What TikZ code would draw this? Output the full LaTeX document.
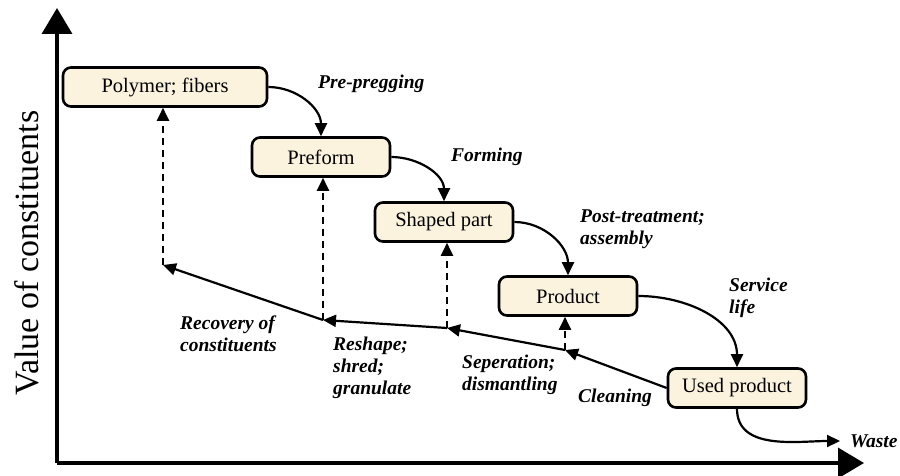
\documentclass[tikz,border=0pt]{standalone}
\usepackage{fontspec}
\setmainfont{Liberation Serif}
\usetikzlibrary{
    arrows.meta,
    positioning
}

\definecolor{cream}{HTML}{FBF3DE}

\tikzset{
    box/.style={draw, rounded corners=8pt, fill=cream, line width=2.6pt,
        minimum width=138pt, minimum height=39pt, inner sep=0pt,
        font=\fontsize{20.5}{24}\selectfont},
    flow/.style={line width=2.2pt, -{Triangle[length=13pt,width=12pt]}},
    recov/.style={flow, dash pattern=on 7pt off 5pt},
    lbl/.style={inner sep=0pt, align=left,
        font=\fontsize{19.5}{22}\selectfont\bfseries\itshape},
    axis/.style={line width=3.5pt, -{Triangle[length=26pt,width=30pt]}}
}

\begin{document}
\begin{tikzpicture}[x=1pt,y=-1pt]

\useasboundingbox (0,0) rectangle (900,476);

% Axes
\coordinate (origin) at (57,463);
\coordinate (ytop) at (57,8);
\coordinate (xend) at (864,463);
\draw[axis] (origin) -- (ytop);
\draw[axis] (origin) -- (xend);
\node[rotate=90, font=\fontsize{34}{38}\selectfont] (ylabel) at (27,253)
    {Value of constituents};

% Stages
\node[box, minimum width=204pt] (poly) at (165,87) {Polymer; fibers};
\node[box] (pref) at (321,157) {Preform};
\node[box] (shaped) at (444,222) {Shaped part};
\node[box] (prod) at (568,296) {Product};
\node[box] (used) at (737,388) {Used product};

% Forward
\draw[flow] (poly.east) to[out=0,in=90] (pref.north);
\draw[flow] (pref.east) to[out=0,in=90] (shaped.north);
\draw[flow] (shaped.east) to[out=0,in=90] (prod.north);
\draw[flow] (prod.east) to[out=0,in=90] (used.north);

\node[lbl, anchor=west] (lprep) at (318,84) {Pre-pregging};
\node[lbl, anchor=west] (lform) at (451,157) {Forming};
\node[lbl, anchor=west] (lpost) at (580,229) {Post-treatment;\\assembly};
\node[lbl, anchor=west] (lserv) at (729,298) {Service\\life};

% Waste
\node[lbl, anchor=west] (waste) at (850,441) {Waste};
\draw[flow] (used.south) to[out=-90,in=180] ([xshift=-10pt]waste.west);

% Return path
\coordinate (j1) at (565,350);
\coordinate (j2) at (447,328);
\coordinate (j3) at (323,320);
\coordinate (j4) at (163,265);

\draw[flow] (used.west) -- (j1);
\draw[flow] (j1) -- (j2);
\draw[flow] (j2) -- (j3);
\draw[flow] (j3) -- (j4);

\draw[recov] (j1) -- (prod.south -| j1);
\draw[recov] (j2) -- (shaped.south -| j2);
\draw[recov] (j3) -- (pref.south -| j3);
\draw[recov] (j4) -- (poly.south -| j4);

\node[lbl, anchor=west] (lrec) at (180,334) {Recovery of\\constituents};
\node[lbl, anchor=west] (lresh) at (333,368) {Reshape;\\shred;\\granulate};
\node[lbl, anchor=west] (lsep) at (462,375) {Seperation;\\dismantling};
\node[lbl, anchor=west] (lclean) at (578,398) {Cleaning};

\end{tikzpicture}
\end{document}
